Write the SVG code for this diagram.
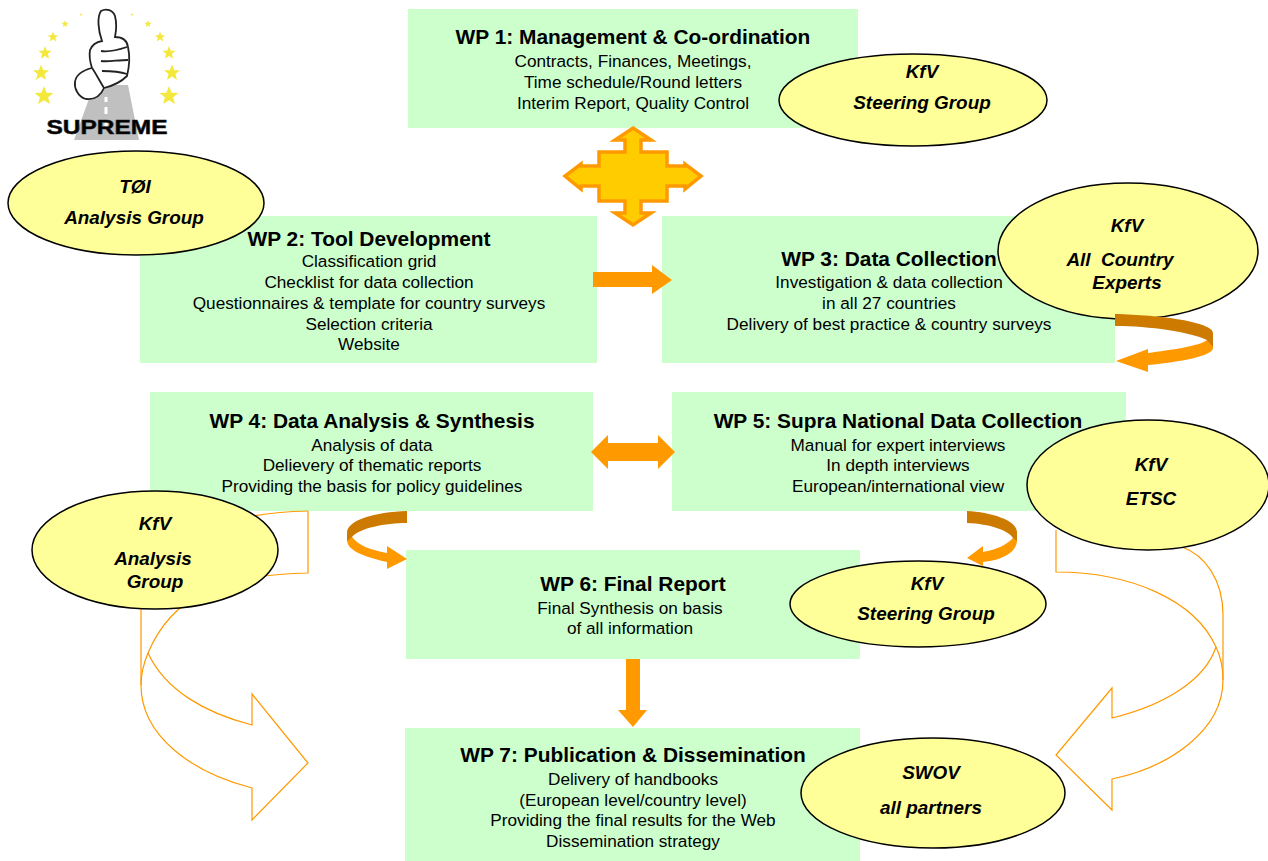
<svg xmlns="http://www.w3.org/2000/svg" width="1268" height="861" viewBox="0 0 1268 861">
<style>
text{font-family:"Liberation Sans",Arial,sans-serif;text-anchor:middle;fill:#000}
.box{fill:#ccffcc}
.t{font-size:20.9px;font-weight:bold}
.b{font-size:17.2px}
.e{fill:#ffff99;stroke:#000;stroke-width:1.5}
.l{font-size:18.9px;font-weight:bold;font-style:italic}
.hollow{fill:none;stroke:#ff9900;stroke-width:1.2}
.or{fill:#ff9900}
.dk{fill:#cc7a00}
.star{fill:#f4e83c}
</style>
<defs>
<polygon id="s" points="0,-10 2.6,-3.2 9.5,-3.1 4.1,1.2 5.9,8.1 0,4.2 -5.9,8.1 -4.1,1.2 -9.5,-3.1 -2.6,-3.2"/>
</defs>
<g id="logo">
<polygon points="94,85 128,85 139,140 74,140" fill="#c0c0c0"/>
<path d="M106,97V102M106,107V114M106,120V126" stroke="#fff" stroke-width="3" fill="none"/>
<path d="M102,41C98,30 97,17 101,11C106,8 113,10 115,16C117,24 116,32 115,37C122,37 127,40 128,47C130,56 129,68 127,76C120,83 112,86 104,88C101,95 95,100 86,99C78,97 74,88 75,82C76,74 84,70 92,68C90,62 89,56 90,50C92,45 96,42 102,41Z" fill="#fff" stroke="#222" stroke-width="1.8"/>
<path d="M101,51C108,52 118,50 127,47M101,61C108,62 118,60 128,60M102,71C108,71 118,71 127,74M92,68C95,72 98,78 104,88" fill="none" stroke="#222" stroke-width="1.8"/>
<g class="star">
<use href="#s" transform="translate(44 96)"/><use href="#s" transform="translate(41 73) scale(.85)"/>
<use href="#s" transform="translate(45 53) scale(.7)"/><use href="#s" transform="translate(53 37) scale(.55)"/>
<use href="#s" transform="translate(65 24) scale(.38)"/><use href="#s" transform="translate(81 14.500) scale(.16)"/>
<use href="#s" transform="translate(169 96)"/><use href="#s" transform="translate(172 73) scale(.85)"/>
<use href="#s" transform="translate(169 53) scale(.7)"/><use href="#s" transform="translate(160 37) scale(.55)"/>
<use href="#s" transform="translate(148 24) scale(.38)"/><use href="#s" transform="translate(132 14.500) scale(.16)"/>
</g>
<text x="107" y="134" font-size="21" font-weight="bold" fill="#222" stroke="#222" stroke-width=".6" textLength="121" lengthAdjust="spacingAndGlyphs">SUPREME</text>
</g>
<g id="wp1"><rect class="box" x="408" y="9" width="450" height="119"/>
<text class="t" x="633" y="44">WP 1: Management &amp; Co-ordination</text>
<text class="b" x="633" y="67">Contracts, Finances, Meetings,</text>
<text class="b" x="633" y="88">Time schedule/Round letters</text>
<text class="b" x="633" y="109">Interim Report, Quality Control</text></g>
<g id="wp2"><rect class="box" x="140" y="216" width="457" height="147"/>
<text class="t" x="369" y="246">WP 2: Tool Development</text>
<text class="b" x="369" y="267">Classification grid</text>
<text class="b" x="369" y="288">Checklist for data collection</text>
<text class="b" x="369" y="309">Questionnaires &amp; template for country surveys</text>
<text class="b" x="369" y="330">Selection criteria</text>
<text class="b" x="369" y="350">Website</text></g>
<g id="wp3"><rect class="box" x="662" y="216" width="453" height="147"/>
<text class="t" x="889" y="266">WP 3: Data Collection</text>
<text class="b" x="889" y="288">Investigation &amp; data collection</text>
<text class="b" x="889" y="309">in all 27 countries</text>
<text class="b" x="889" y="330">Delivery of best practice &amp; country surveys</text></g>
<g id="wp4"><rect class="box" x="150" y="392" width="443" height="119"/>
<text class="t" x="372" y="428">WP 4: Data Analysis &amp; Synthesis</text>
<text class="b" x="372" y="451">Analysis of data</text>
<text class="b" x="372" y="471">Delievery of thematic reports</text>
<text class="b" x="372" y="492">Providing the basis for policy guidelines</text></g>
<g id="wp5"><rect class="box" x="672" y="392" width="454" height="119"/>
<text class="t" x="898" y="428">WP 5: Supra National Data Collection</text>
<text class="b" x="898" y="451">Manual for expert interviews</text>
<text class="b" x="898" y="471">In depth interviews</text>
<text class="b" x="898" y="492">European/international view</text></g>
<g id="wp6"><rect class="box" x="406" y="550" width="454" height="109"/>
<text class="t" x="633" y="591">WP 6: Final Report</text>
<text class="b" x="630" y="614">Final Synthesis on basis</text>
<text class="b" x="630" y="634">of all information</text></g>
<g id="wp7"><rect class="box" x="405" y="728" width="455" height="133"/>
<text class="t" x="633" y="762">WP 7: Publication &amp; Dissemination</text>
<text class="b" x="633" y="785">Delivery of handbooks</text>
<text class="b" x="633" y="806">(European level/country level)</text>
<text class="b" x="633" y="826">Providing the final results for the Web</text>
<text class="b" x="633" y="847">Dissemination strategy</text></g>
<g id="e1"><ellipse class="e" cx="913" cy="100" rx="134" ry="46"/>
<text class="l" x="922" y="78">KfV</text><text class="l" x="922" y="109">Steering Group</text></g>
<g id="e2"><ellipse class="e" cx="136" cy="203" rx="128" ry="52"/>
<text class="l" x="135" y="193">TØI</text><text class="l" x="134" y="224">Analysis Group</text></g>
<g id="e3"><ellipse class="e" cx="1128" cy="251" rx="130" ry="68"/>
<text class="l" x="1127" y="232">KfV</text><text class="l" x="1120" y="266" style="white-space:pre">All  Country</text><text class="l" x="1127" y="289">Experts</text></g>
<g id="connectors">
<path id="c1" d="M633,128L651,140H641V152H667V166H685V164L701,176L685,189V186H667V201H641V213H651L633,225L615,213H625V201H599V186H581V189L565,176L581,164V166H599V152H625V140H615Z" fill="#ffcc00" stroke="#ff9900" stroke-width="3.500"/>
<polygon class="or" points="593,272 652,272 652,265 672,280 652,294 652,287 593,287"/>
<polygon class="or" points="591,452 608,435 608,443 658,443 658,435 675,452 658,469 658,461 608,461 608,469"/>
<polygon class="or" points="626,659 640,659 640,710 647,710 633,727 618,710 626,710"/>
<path class="or" d="M1207,340C1200,346 1170,350 1148,353V349L1116,361L1148,372V365C1180,362 1213,356 1213,348V335Z"/>
<path class="dk" d="M1115,314C1160,315 1213,322 1213,333V347L1207,340C1190,332 1150,326 1115,326Z"/>
<path class="or" d="M347,533V540C347,552 370,558 387,562V569L407,559L387,546V553C370,550 358,545 352,537Z"/>
<path class="dk" d="M407,511C375,512 347,520 347,533V541L352,537C360,528 385,523 407,523Z"/>
<path class="or" d="M1013,538C1007,545 995,550 983,552V546L967,558L983,566V562C1003,560 1017,552 1017,540V532Z"/>
<path class="dk" d="M967,511C990,512 1017,520 1017,532V541L1013,538C1008,530 990,524 967,523Z"/>
<g class="hollow">
<path d="M308,511L308,573C220,575 172,596 148,653C165,690 205,713 252,725L252,694L308,763L252,820L252,788C190,772 141,735 141,685L141,600"/>
<path d="M308,511C240,512 190,530 170,560M148,653C143,665 141,675 141,685"/>
<path d="M1056,530L1056,572C1130,572 1195,600 1216,647C1205,680 1165,705 1112,718L1112,688L1056,755L1112,810L1112,779C1170,767 1223,730 1223,680L1223,615C1223,580 1205,555 1182,547"/>
<path d="M1216,647C1220,655 1223,668 1223,680"/>
</g>
</g>
<g id="e4"><ellipse class="e" cx="155" cy="550" rx="123" ry="59"/>
<text class="l" x="155" y="530">KfV</text><text class="l" x="153" y="565">Analysis</text><text class="l" x="155" y="588">Group</text></g>
<g id="e5"><ellipse class="e" cx="1148" cy="485" rx="121" ry="65"/>
<text class="l" x="1151" y="471">KfV</text><text class="l" x="1151" y="505">ETSC</text></g>
<g id="e6"><ellipse class="e" cx="918" cy="604" rx="128" ry="43"/>
<text class="l" x="927" y="590">KfV</text><text class="l" x="926" y="620">Steering Group</text></g>
<g id="e7"><ellipse class="e" cx="933" cy="793" rx="132" ry="55"/>
<text class="l" x="931" y="779">SWOV</text><text class="l" x="931" y="814">all partners</text></g>
</svg>
